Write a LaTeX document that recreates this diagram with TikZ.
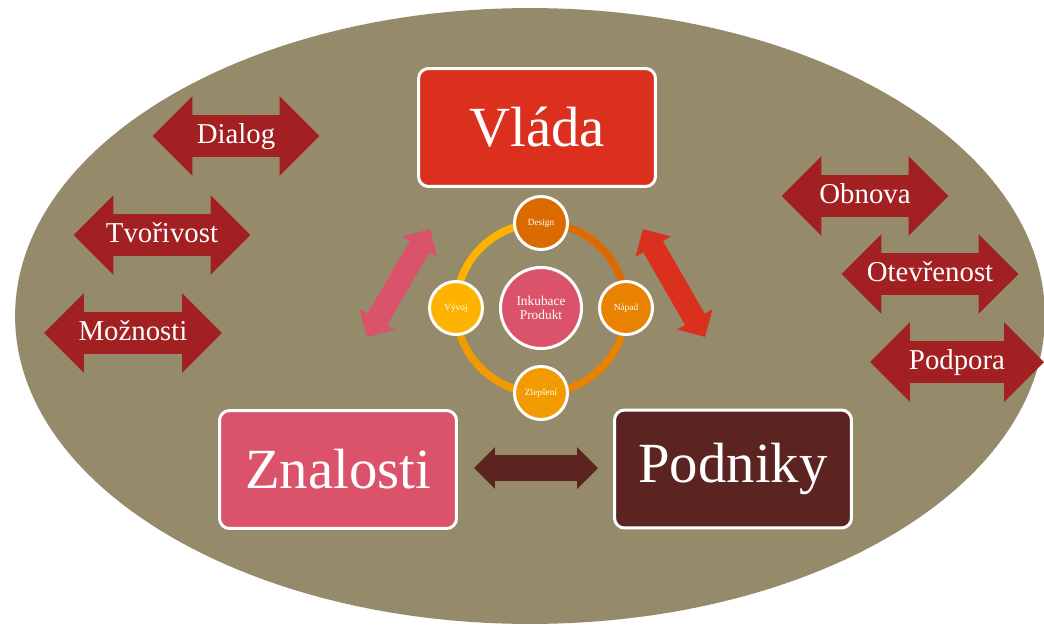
\documentclass[tikz,border=0pt]{standalone}
\usepackage{fontspec}
\setmainfont{Liberation Serif}
\usetikzlibrary{shapes.arrows}
\definecolor{bgolive}{HTML}{958B6B}
\definecolor{cvlada}{HTML}{DC301F}
\definecolor{cznal}{HTML}{DA536A}
\definecolor{cpodn}{HTML}{5C2421}
\definecolor{csipka}{HTML}{A21F22}
\definecolor{cdesign}{HTML}{DB6A00}
\definecolor{cnapad}{HTML}{E88200}
\definecolor{czlep}{HTML}{F29B00}
\definecolor{cvyvoj}{HTML}{FDB300}
\tikzstyle{big_box}=[rectangle,rounded corners=0.2cm,draw=white,line width=0.06cm,minimum width=4.74cm,minimum height=2.36cm,text=white,font=\fontsize{32.3}{36}\selectfont]
\tikzstyle{side_arrow}=[double arrow,fill=csipka,text=white,font=\fontsize{16.4}{18}\selectfont,double arrow head extend=0.38cm,double arrow tip angle=90,text height=11.5pt,text depth=3.5pt,inner ysep=0.146cm,inner xsep=0pt,minimum width=1.58cm]
\tikzstyle{fat_arrow}=[double arrow,double arrow tip angle=90,text height=0pt,text depth=0pt,inner xsep=0pt]
\tikzstyle{ring_dot}=[circle,draw=white,line width=0.06cm,minimum size=1.06cm,inner sep=0pt,text=white,font=\fontsize{5.3}{6}\selectfont]
\tikzstyle{ring_arc}=[line width=0.15cm]

\begin{document}
\begin{tikzpicture}[x=0.02cm,y=-0.02cm]
\useasboundingbox (0,0) rectangle (1044,625);
\fill[bgolive] (530,316) ellipse [x radius=10.3cm, y radius=6.16cm];
\node (vlada) at (537,127.5)[big_box,fill=cvlada] {Vláda};
\node (znalosti) at (338,469.5)[big_box,fill=cznal] {Znalosti};
\node (podniky) at (733,469)[big_box,fill=cpodn] {Podniky};
\node (pink_arrow) at (398.5,283)[fat_arrow,fill=cznal,rotate=59.7,minimum height=2.5cm,inner ysep=0.22cm,double arrow head extend=0.18cm] {};
\node (red_arrow) at (674,283)[fat_arrow,fill=cvlada,rotate=-60.1,minimum height=2.49cm,inner ysep=0.22cm,double arrow head extend=0.18cm] {};
\node (brown_arrow) at (536,468)[fat_arrow,fill=cpodn,minimum height=2.48cm,inner ysep=0.25cm,double arrow head extend=0.16cm] {};
\coordinate (p_design) at (541,223);\coordinate (p_napad) at (626,308);
\coordinate (p_zlep) at (541,393);\coordinate (p_vyvoj) at (456,308);
\draw[ring_arc,cdesign] (p_design) to[bend left=45] (p_napad);
\draw[ring_arc,cnapad] (p_napad) to[bend left=45] (p_zlep);
\draw[ring_arc,czlep] (p_zlep) to[bend left=45] (p_vyvoj);
\draw[ring_arc,cvyvoj] (p_vyvoj) to[bend left=45] (p_design);
\node (inkubace) at (541,308)[circle,draw=white,line width=0.06cm,fill=cznal,minimum size=1.62cm,inner sep=0pt,text=white,align=center,font=\fontsize{7.6}{7.6}\selectfont] {Inkubace\\Produkt};
\node (design) at (p_design)[ring_dot,fill=cdesign] {Design};
\node (napad) at (p_napad)[ring_dot,fill=cnapad] {Nápad};
\node (zlepseni) at (p_zlep)[ring_dot,fill=czlep] {Zlepšení};
\node (vyvoj) at (p_vyvoj)[ring_dot,fill=cvyvoj] {Vývoj};
\node (dialog) at (236,136)[side_arrow,minimum height=3.34cm] {Dialog};
\node (tvorivost) at (162,235)[side_arrow,minimum height=3.54cm] {Tvořivost};
\node (moznosti) at (133,333)[side_arrow,minimum height=3.56cm] {Možnosti};
\node (obnova) at (865,196)[side_arrow,minimum height=3.34cm] {Obnova};
\node (otevrenost) at (930,274)[side_arrow,minimum height=3.54cm] {Otevřenost};
\node (podpora) at (957,362)[side_arrow,minimum height=3.48cm] {Podpora};
\end{tikzpicture}
\end{document}
